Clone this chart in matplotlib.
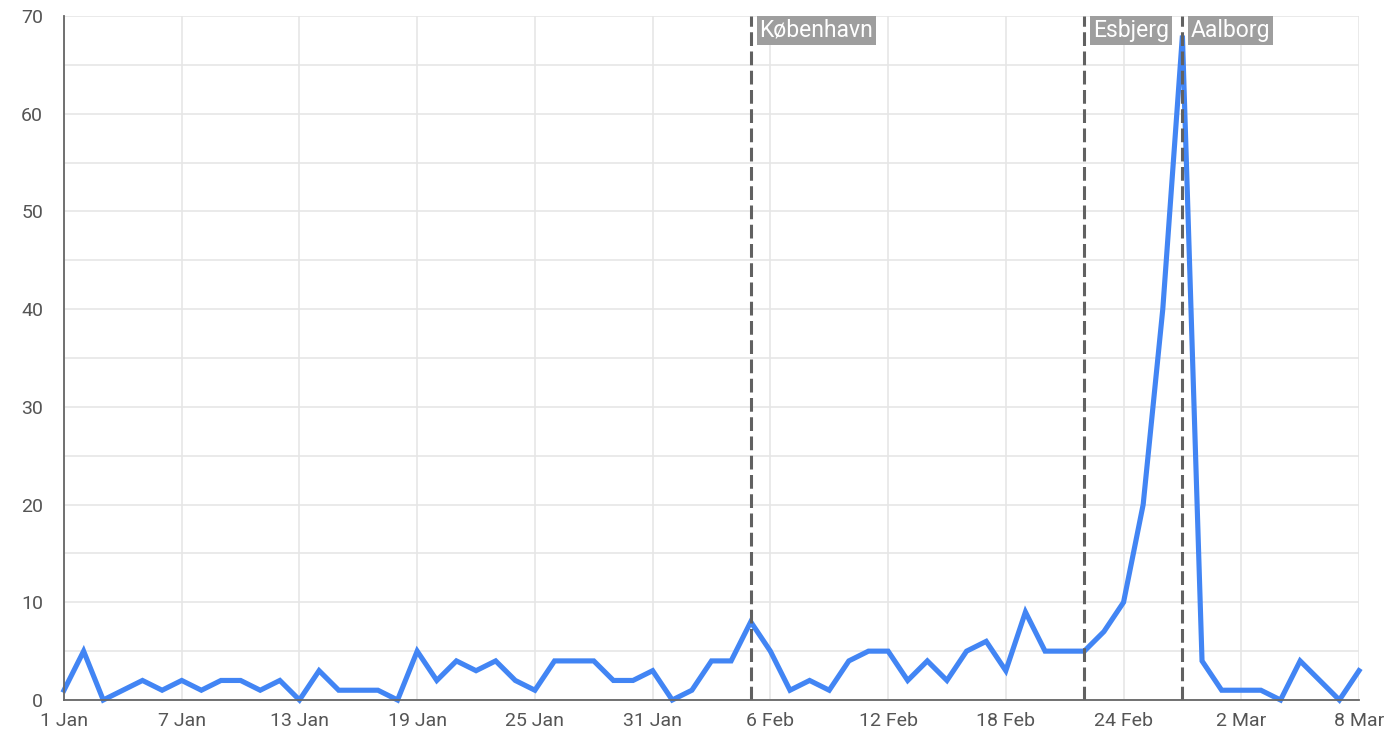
#!/usr/bin/env python3
"""Daily counts Jan-Mar with city event markers."""

import matplotlib
matplotlib.use("Agg")
import matplotlib.pyplot as plt
import numpy as np
import pandas as pd

START = "2021-01-01"
COUNTS = [
    1, 5, 0, 1, 2, 1, 2, 1, 2, 2, 1, 2, 0, 3, 1, 1, 1, 0, 5, 2,
    4, 3, 4, 2, 1, 4, 4, 4, 2, 2, 3, 0, 1, 4, 4, 8, 5, 1, 2, 1,
    4, 5, 5, 2, 4, 2, 5, 6, 3, 9, 5, 5, 5, 7, 10, 20, 40, 68, 4, 1,
    1, 1, 0, 4, 2, 0, 3,
]
EVENT_DATES = ["2021-02-05", "2021-02-22", "2021-02-27"]
EVENT_NAMES = ["København", "Esbjerg", "Aalborg"]

LINE_BLUE = "#4285f4"
GRID = "#e6e6e6"
AXIS = "#666666"
TEXT = "#555555"

plt.rcParams["font.family"] = ["Roboto", "DejaVu Sans"]

dates = pd.date_range(START, periods=len(COUNTS), freq="D")

fig = plt.figure(figsize=(13.99, 7.42), dpi=100)
ax = fig.add_axes([64 / 1399, 42 / 742, 1295 / 1399, 684 / 742])

ax.plot(dates, COUNTS, color=LINE_BLUE, linewidth=3.7, solid_joinstyle="miter",
        zorder=3, clip_on=False)

ax.set_xlim(dates[0], dates[-1])
ax.set_ylim(0, 70)

ticks = dates[::6]
ax.set_xticks(ticks)
ax.set_xticklabels([f"{d.day} {d.strftime('%b')}" for d in ticks])
ax.set_yticks(np.arange(0, 71, 10))
ax.set_yticks(np.arange(0, 71, 5), minor=True)
ax.grid(True, which="both", axis="y", color=GRID, linewidth=1.2, zorder=0)
ax.grid(True, which="major", axis="x", color=GRID, linewidth=1.2, zorder=0)
ax.tick_params(which="both", length=0)
ax.tick_params(axis="x", pad=9, labelsize=14, labelcolor=TEXT)
ax.tick_params(axis="y", pad=15, labelsize=14, labelcolor=TEXT)

for side in ("top", "right"):
    ax.spines[side].set_visible(False)
for side in ("left", "bottom"):
    ax.spines[side].set_color(AXIS)
    ax.spines[side].set_linewidth(1.3)
    ax.spines[side].set_zorder(4)

for when, name in zip(EVENT_DATES, EVENT_NAMES):
    x = pd.Timestamp(when)
    ax.axvline(x, color="#616161", linewidth=2.2, linestyle=(0, (4.5, 1.8)), zorder=4)
    ax.annotate(name, xy=(x, 70), xytext=(6.3, -2.0), textcoords="offset points",
                ha="left", va="top", color="white", fontsize=16.5, zorder=5,
                bbox=dict(boxstyle="square,pad=0.12", fc="#9e9e9e", ec="none"))

fig.savefig("out.png", dpi=100)
